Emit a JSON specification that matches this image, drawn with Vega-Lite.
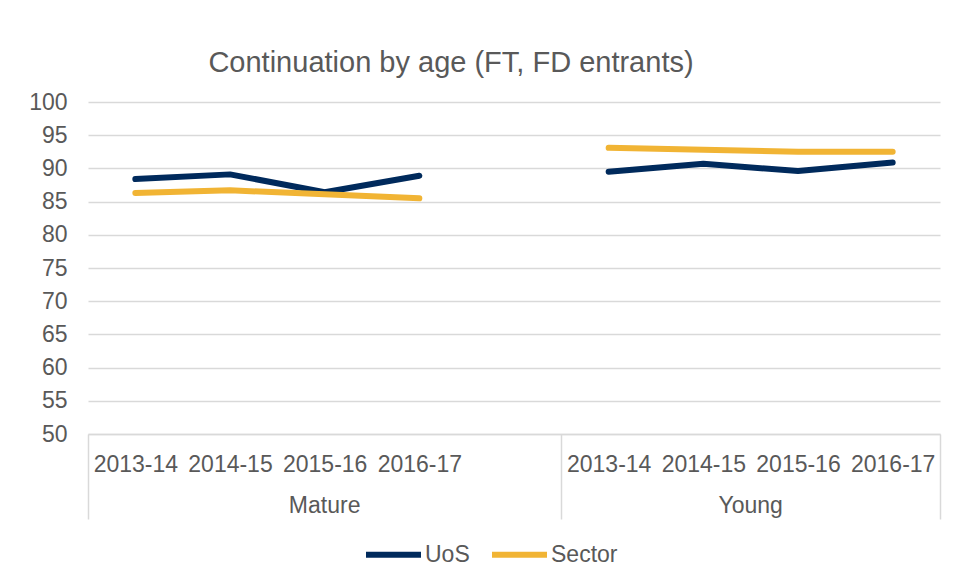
{
  "$schema": "https://vega.github.io/schema/vega-lite/v6.json",
  "width": 852,
  "height": 332,
  "autosize": {"type": "none"},
  "padding": {"left": 88, "top": 102, "right": 17, "bottom": 149},
  "title": {
    "text": "Continuation by age (FT, FD entrants)",
    "fontSize": 29,
    "font": "Liberation Sans",
    "fontWeight": "normal",
    "color": "#595959",
    "anchor": "middle",
    "dx": -63,
    "offset": -10,
    "baseline": "alphabetic"
  },
  "config": {
    "view": {"stroke": null},
    "font": "Liberation Sans"
  },
  "datasets": {
    "rates": [
      {"cat": "Mature 2013-14", "age": "Mature", "year": "2013-14", "series": "UoS", "value": 88.4},
      {"cat": "Mature 2014-15", "age": "Mature", "year": "2014-15", "series": "UoS", "value": 89.1},
      {"cat": "Mature 2015-16", "age": "Mature", "year": "2015-16", "series": "UoS", "value": 86.4},
      {"cat": "Mature 2016-17", "age": "Mature", "year": "2016-17", "series": "UoS", "value": 88.9},
      {"cat": "Young 2013-14", "age": "Young", "year": "2013-14", "series": "UoS", "value": 89.5},
      {"cat": "Young 2014-15", "age": "Young", "year": "2014-15", "series": "UoS", "value": 90.7},
      {"cat": "Young 2015-16", "age": "Young", "year": "2015-16", "series": "UoS", "value": 89.6},
      {"cat": "Young 2016-17", "age": "Young", "year": "2016-17", "series": "UoS", "value": 90.9},
      {"cat": "Mature 2013-14", "age": "Mature", "year": "2013-14", "series": "Sector", "value": 86.3},
      {"cat": "Mature 2014-15", "age": "Mature", "year": "2014-15", "series": "Sector", "value": 86.7},
      {"cat": "Mature 2015-16", "age": "Mature", "year": "2015-16", "series": "Sector", "value": 86.1},
      {"cat": "Mature 2016-17", "age": "Mature", "year": "2016-17", "series": "Sector", "value": 85.5},
      {"cat": "Young 2013-14", "age": "Young", "year": "2013-14", "series": "Sector", "value": 93.1},
      {"cat": "Young 2014-15", "age": "Young", "year": "2014-15", "series": "Sector", "value": 92.8},
      {"cat": "Young 2015-16", "age": "Young", "year": "2015-16", "series": "Sector", "value": 92.5},
      {"cat": "Young 2016-17", "age": "Young", "year": "2016-17", "series": "Sector", "value": 92.5}
    ]
  },
  "layer": [
    {
      "data": {"name": "rates"},
      "mark": {"type": "line", "strokeWidth": 6, "strokeCap": "round", "strokeJoin": "round"},
      "encoding": {
        "x": {
          "field": "cat",
          "type": "nominal",
          "sort": null,
          "scale": {
            "type": "band",
            "domain": ["Mature 2013-14", "Mature 2014-15", "Mature 2015-16", "Mature 2016-17", "Mature gap", "Young 2013-14", "Young 2014-15", "Young 2015-16", "Young 2016-17"],
            "paddingInner": 0,
            "paddingOuter": 0
          },
          "axis": {
            "title": null,
            "grid": false,
            "domainColor": "#d9d9d9",
            "domainWidth": 1.5,
            "ticks": true,
            "tickBand": "extent",
            "tickSize": 85,
            "tickColor": "#d9d9d9",
            "tickWidth": 1.5,
            "tickOpacity": {"condition": {"test": "!isString(datum.value) || datum.value == 'Mature gap' || datum.value == 'Young 2016-17'", "value": 1}, "value": 0},
            "labelExpr": "isString(datum.value) && datum.value != 'Mature gap' ? replace(replace(datum.value, 'Mature ', ''), 'Young ', '') : ''",
            "labelFontSize": 23,
            "labelColor": "#595959",
            "labelAngle": 0,
            "labelBaseline": "top",
            "labelPadding": -66,
            "labelOverlap": false
          }
        },
        "y": {
          "field": "value",
          "type": "quantitative",
          "scale": {"domain": [50, 100], "nice": false, "zero": false},
          "axis": {
            "title": null,
            "values": [50, 55, 60, 65, 70, 75, 80, 85, 90, 95, 100],
            "tickCount": 11,
            "domain": false,
            "ticks": false,
            "grid": true,
            "gridColor": "#d9d9d9",
            "gridWidth": 1.4,
            "labelFontSize": 23,
            "labelColor": "#595959",
            "labelPadding": 21,
            "labelOverlap": false
          }
        },
        "color": {
          "field": "series",
          "type": "nominal",
          "scale": {"domain": ["UoS", "Sector"], "range": ["#002a5c", "#f1b434"]},
          "legend": {
            "title": null,
            "orient": "none",
            "legendX": 275,
            "legendY": 422,
            "direction": "horizontal",
            "symbolType": "stroke",
            "symbolStrokeWidth": 6,
            "symbolSize": 3025,
            "labelFontSize": 23,
            "labelColor": "#595959",
            "labelOffset": 1,
            "columnPadding": 10
          }
        },
        "detail": {"field": "age"}
      }
    },
    {
      "data": {"values": [{"cat": "Mature 2015-16", "label": "Mature"}]},
      "mark": {"type": "text", "fontSize": 23, "color": "#595959", "baseline": "alphabetic", "align": "center", "dy": 79},
      "encoding": {
        "x": {"field": "cat", "type": "nominal", "bandPosition": 0.5},
        "y": {"datum": 50},
        "text": {"field": "label"}
      }
    },
    {
      "data": {"values": [{"cat": "Young 2015-16", "label": "Young"}]},
      "mark": {"type": "text", "fontSize": 23, "color": "#595959", "baseline": "alphabetic", "align": "center", "dy": 79},
      "encoding": {
        "x": {"field": "cat", "type": "nominal", "bandPosition": 0},
        "y": {"datum": 50},
        "text": {"field": "label"}
      }
    }
  ]
}
